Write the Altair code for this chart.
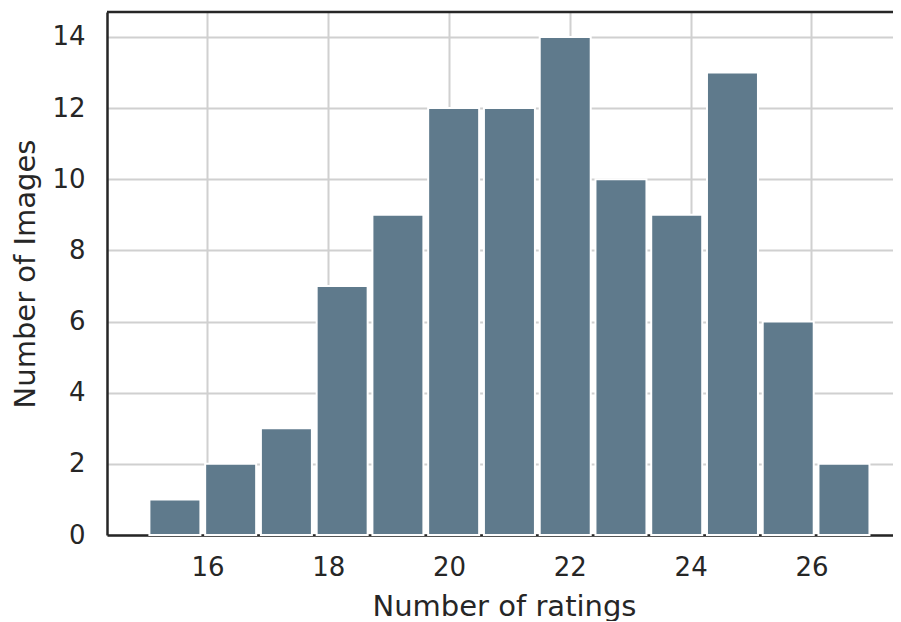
import altair as alt
import pandas as pd

# Histogram data
bin_edges = [15.0, 15.923, 16.846, 17.769, 18.692, 19.615, 20.538,
             21.462, 22.385, 23.308, 24.231, 25.154, 26.077, 27.0]
counts = [1, 2, 3, 7, 9, 12, 12, 14, 10, 9, 13, 6, 2]
x_ticks = [16, 18, 20, 22, 24, 26]
y_ticks = [0, 2, 4, 6, 8, 10, 12, 14]

df = pd.DataFrame({"start": bin_edges[:-1], "end": bin_edges[1:], "count": counts})
df["mid"] = (df["start"] + df["end"]) / 2

W, H = 794, 523
TXT = "#262626"

bars = alt.Chart(df).mark_bar(
    color="#5f7a8c", stroke="white", strokeWidth=2, size=51
).encode(
    x=alt.X("mid:Q",
            scale=alt.Scale(domain=[14.42, 27.4], nice=False, zero=False),
            axis=alt.Axis(values=x_ticks, title="Number of ratings",
                          labelPadding=19, titlePadding=12)),
    y=alt.Y("count:Q",
            scale=alt.Scale(domain=[0, 14.7], nice=False),
            axis=alt.Axis(values=y_ticks, title="Number of Images",
                          labelPadding=22, titlePadding=11)),
)

top = alt.Chart(pd.DataFrame({"a": [0]})).mark_rule(
    color=TXT, strokeWidth=2.5
).encode(x=alt.value(0), x2=alt.value(W), y=alt.value(0))

chart = (bars + top).properties(
    width=W, height=H,
    autosize=alt.AutoSizeParams(type="none"),
    padding={"left": 99, "top": 4, "right": -8, "bottom": 86},
).configure_view(stroke=None).configure_axis(
    labelFont="DejaVu Sans", titleFont="DejaVu Sans",
    labelFontSize=26, titleFontSize=29, titleFontWeight="normal",
    labelColor=TXT, titleColor=TXT,
    domainColor=TXT, domainWidth=2.5,
    ticks=False, tickSize=0,
    gridColor="#d0d0d0", gridWidth=2,
)

chart.save("out.html", embed_options={"renderer": "svg", "actions": False})
